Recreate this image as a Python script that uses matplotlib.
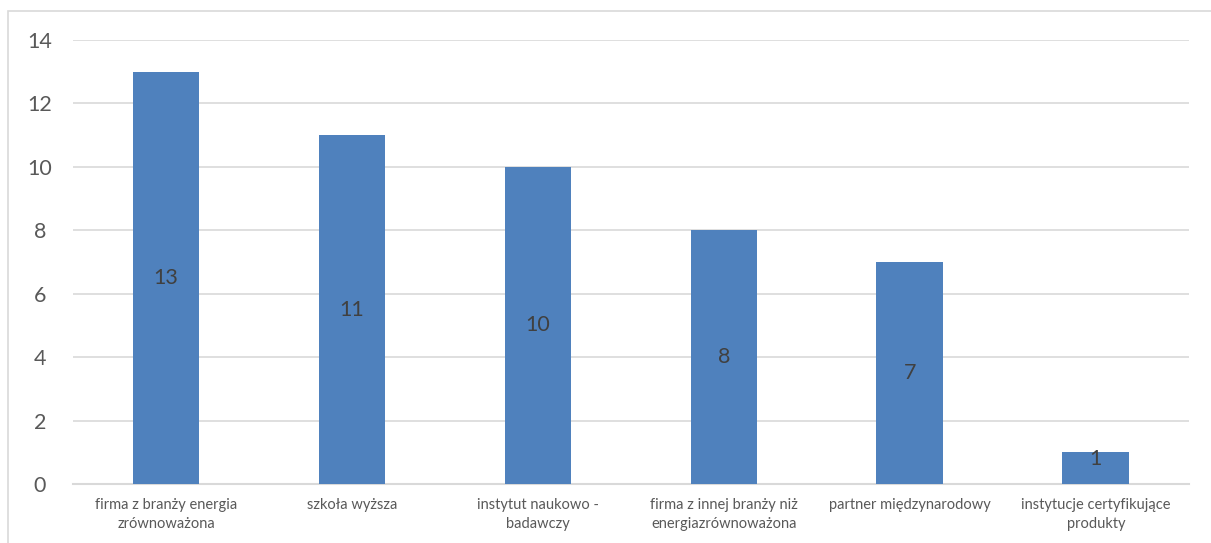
import matplotlib
matplotlib.use('Agg')
import matplotlib.pyplot as plt
from matplotlib.patches import Rectangle

plt.rcParams['font.family'] = ['Lato', 'DejaVu Sans']

# partner types and counts
categories = ['firma z branży energia\nzrównoważona',
              'szkoła wyższa',
              'instytut naukowo -\nbadawczy',
              'firma z innej branży niż\nenergiazrównoważona',
              'partner międzynarodowy',
              'instytucje certyfikujące\nprodukty']
counts = [13, 11, 10, 8, 7, 1]
yticks = [0, 2, 4, 6, 8, 10, 12, 14]

fig = plt.figure(figsize=(12.11, 5.43), dpi=100)
ax = fig.add_axes([0.0603, 0.1087, 0.9215, 0.8176])

# light frame around the chart area
fig.patches.append(Rectangle((8 / 1211, -0.05), 1.1, 1 - 11 / 543 + 0.05,
                             transform=fig.transFigure, fill=False,
                             edgecolor='#d9d9d9', linewidth=1.2))

x = range(len(categories))
bars = ax.bar(x, counts, width=0.36, color='#4f81bd', zorder=3)

# value labels in the middle of the bars
for b, v in zip(bars, counts):
    ax.text(b.get_x() + b.get_width() / 2, max(v / 2, 0.8), str(v),
            ha='center', va='center', fontsize=15.5, color='#404040', zorder=4)

ax.set_xlim(-0.5, len(categories) - 0.5)
ax.set_ylim(0, 14)
ax.set_yticks(yticks)
ax.set_xticks(list(x))
ax.set_xticklabels(categories, fontsize=10.5, color='#595959', linespacing=1.5)
ax.tick_params(axis='y', labelsize=15.5, labelcolor='#595959', length=0, pad=24)
ax.tick_params(axis='x', length=0, pad=10)
for lbl in ax.get_yticklabels():
    lbl.set_horizontalalignment('center')
ax.grid(axis='y', color='#d9d9d9', linewidth=1.2, zorder=0)
for s in ['top', 'right', 'left']:
    ax.spines[s].set_visible(False)
ax.spines['bottom'].set_color('#d9d9d9')
ax.spines['bottom'].set_linewidth(1.5)

fig.savefig('out.png', dpi=100)
